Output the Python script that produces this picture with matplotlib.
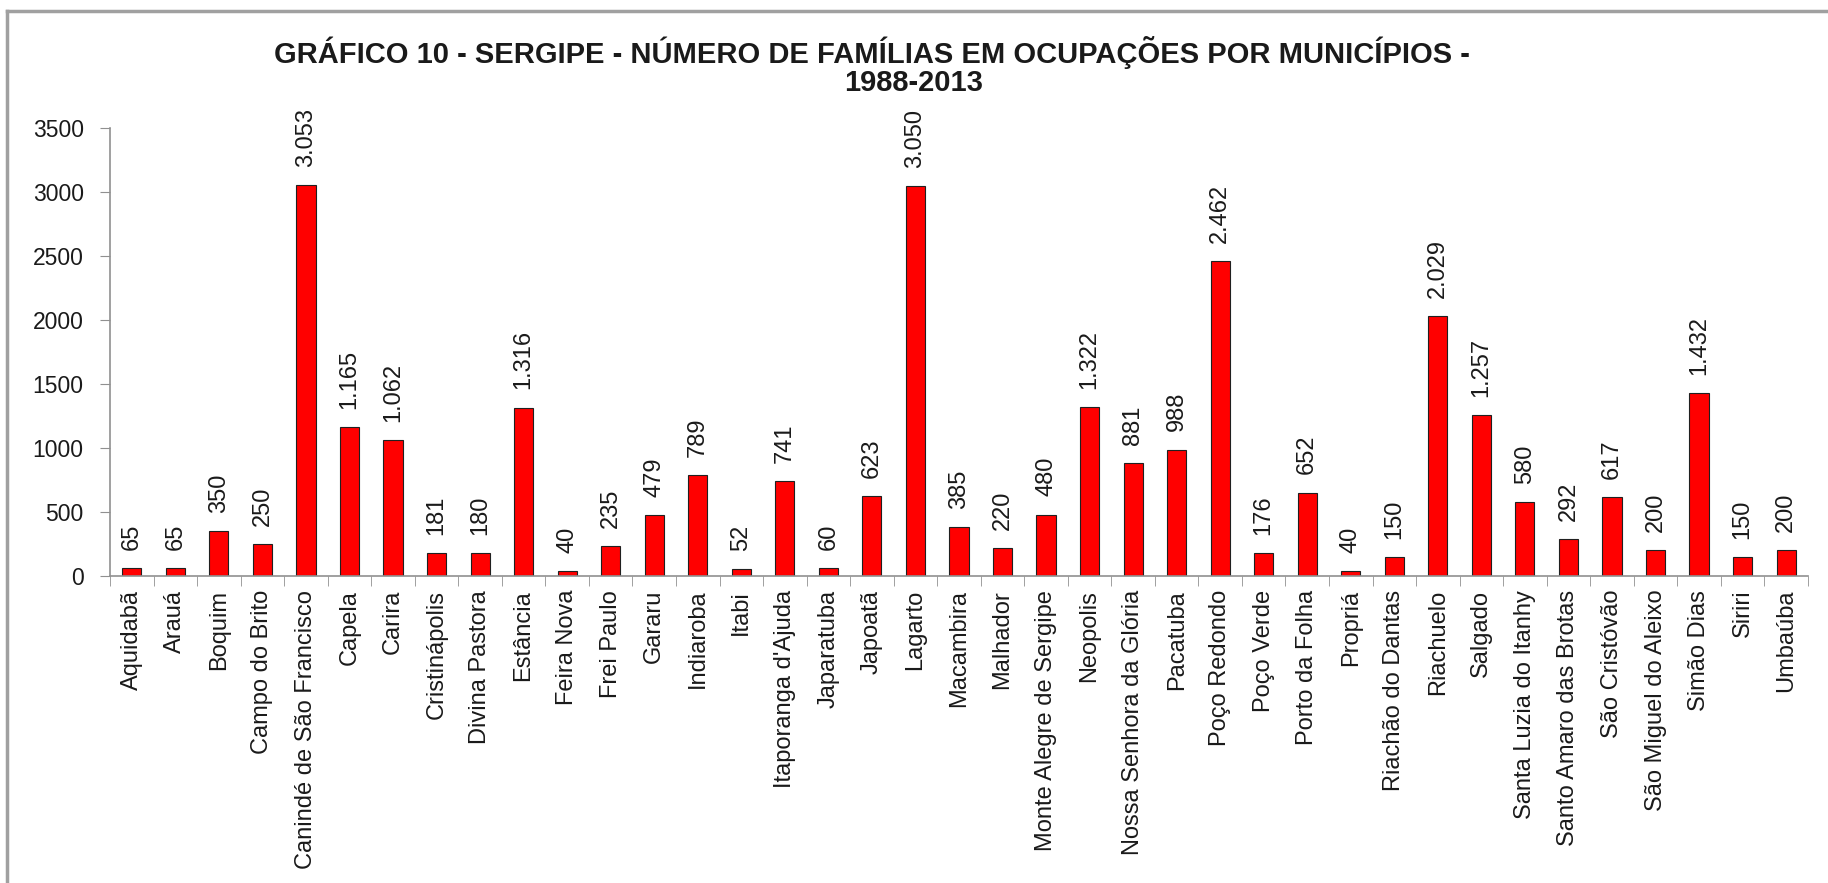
import matplotlib
matplotlib.use("Agg")
from matplotlib import pyplot as plt
from matplotlib.lines import Line2D

"""Sergipe - families in land occupations by municipality, 1988-2013"""

municipios = [
    "Aquidabã", "Arauá", "Boquim", "Campo do Brito", "Canindé de São Francisco",
    "Capela", "Carira", "Cristinápolis", "Divina Pastora", "Estância",
    "Feira Nova", "Frei Paulo", "Gararu", "Indiaroba", "Itabi",
    "Itaporanga d'Ajuda", "Japaratuba", "Japoatã", "Lagarto", "Macambira",
    "Malhador", "Monte Alegre de Sergipe", "Neopolis", "Nossa Senhora da Glória",
    "Pacatuba", "Poço Redondo", "Poço Verde", "Porto da Folha", "Propriá",
    "Riachão do Dantas", "Riachuelo", "Salgado", "Santa Luzia do Itanhy",
    "Santo Amaro das Brotas", "São Cristóvão", "São Miguel do Aleixo",
    "Simão Dias", "Siriri", "Umbaúba",
]
familias = [
    65, 65, 350, 250, 3053,
    1165, 1062, 181, 180, 1316,
    40, 235, 479, 789, 52,
    741, 60, 623, 3050, 385,
    220, 480, 1322, 881,
    988, 2462, 176, 652, 40,
    150, 2029, 1257, 580,
    292, 617, 200,
    1432, 150, 200,
]
y_ticks = [0, 500, 1000, 1500, 2000, 2500, 3000, 3500]

plt.rcParams['font.family'] = ['Liberation Sans', 'DejaVu Sans']

fig = plt.figure(figsize=(18.28, 8.83), dpi=100)
ax = fig.add_axes([0.0602, 0.3477, 0.9288, 0.5073])

x = range(len(municipios))
ax.bar(x, familias, width=0.44, color='#FF0000', edgecolor='#202020', linewidth=0.8)

# value labels, thousands with a dot
for xi, v in zip(x, familias):
    txt = f"{v:,}".replace(",", ".")
    ax.annotate(txt, (xi, v), xytext=(0, 13), textcoords='offset points',
                rotation=90, ha='center', va='bottom', fontsize=17, color='#1a1a1a')

ax.set_xlim(-0.5, len(municipios) - 0.5)
ax.set_ylim(0, 3500)
ax.set_yticks(y_ticks)
ax.set_yticklabels([str(t) for t in y_ticks], fontsize=16.5, color='#1a1a1a')

ax.set_xticks(list(x))
ax.set_xticklabels(municipios, rotation=90, fontsize=17, color='#1a1a1a')
ax.set_xticks([i - 0.5 for i in range(len(municipios) + 1)], minor=True)
ax.tick_params(axis='x', which='major', length=0, pad=10)
ax.tick_params(axis='x', which='minor', length=7, color='#909090', direction='out')
ax.tick_params(axis='y', length=7, color='#909090', pad=12)

for side in ['top', 'right']:
    ax.spines[side].set_visible(False)
for side in ['left', 'bottom']:
    ax.spines[side].set_color('#909090')
    ax.spines[side].set_linewidth(1.2)

fig.text(0.477, 0.941, "GRÁFICO 10 - SERGIPE - NÚMERO DE FAMÍLIAS EM OCUPAÇÕES POR MUNICÍPIOS -",
         ha='center', va='center', fontsize=21, fontweight='bold', color='#1a1a1a')
fig.text(0.5, 0.906, "1988-2013", ha='center', va='center', fontsize=21,
         fontweight='bold', color='#1a1a1a')

# frame: only top and left edges are visible
fig.add_artist(Line2D([0.004, 1.0], [0.988, 0.988], transform=fig.transFigure,
                      color='#a0a0a0', linewidth=2.5))
fig.add_artist(Line2D([0.004, 0.004], [0.0, 0.988], transform=fig.transFigure,
                      color='#a0a0a0', linewidth=2.5))

fig.savefig("out.png", dpi=100)
